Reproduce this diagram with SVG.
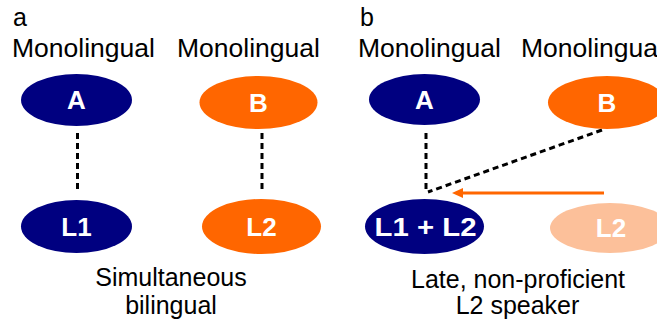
<svg xmlns="http://www.w3.org/2000/svg" width="657" height="326" viewBox="0 0 657 326">
<style>
.lbl{font-family:"Liberation Sans",Arial,sans-serif;font-size:25px;fill:#000}
.pl{font-family:"Liberation Sans",Arial,sans-serif;font-size:25px;fill:#000}
.nt{font-family:"Liberation Sans",Arial,sans-serif;font-size:26px;font-weight:bold;fill:#fff;text-anchor:middle}
.navy{fill:#000080}
.orange{fill:#ff6600}
.peach{fill:#fcc09a}
.dash{stroke:#000;stroke-width:3;stroke-dasharray:6,4;fill:none}
</style>
<defs>
<marker id="ah" markerWidth="11" markerHeight="10" refX="1" refY="5" orient="auto" markerUnits="userSpaceOnUse">
<path d="M0,0 L11,5 L0,10 Z" fill="#ff6600"/>
</marker>
</defs>
<text class="pl" x="13" y="26">a</text>
<text class="pl" x="360" y="26">b</text>
<text class="lbl" x="12" y="57" textLength="143" lengthAdjust="spacingAndGlyphs">Monolingual</text>
<text class="lbl" x="177" y="57" textLength="143" lengthAdjust="spacingAndGlyphs">Monolingual</text>
<text class="lbl" x="358" y="57" textLength="143" lengthAdjust="spacingAndGlyphs">Monolingual</text>
<text class="lbl" x="521" y="57" textLength="143" lengthAdjust="spacingAndGlyphs">Monolingual</text>
<g id="connectors">
<line class="dash" x1="77.5" y1="133" x2="77.5" y2="193"/>
<line class="dash" x1="262" y1="133" x2="262" y2="193"/>
<line class="dash" x1="426" y1="133" x2="426" y2="192"/>
<line class="dash" x1="602" y1="130" x2="428" y2="192"/>
<line x1="604" y1="193" x2="462" y2="193" stroke="#ff6600" stroke-width="3" marker-end="url(#ah)"/>
</g>
<g id="nodeA1"><ellipse class="navy" cx="76.5" cy="100" rx="55.5" ry="26"/><text class="nt" x="76.5" y="109">A</text></g>
<g id="nodeB1"><ellipse class="orange" cx="258.5" cy="102.5" rx="59" ry="26.5"/><text class="nt" x="258.5" y="112">B</text></g>
<g id="nodeL1a"><ellipse class="navy" cx="76.5" cy="226.5" rx="55.5" ry="26.5"/><text class="nt" x="76.5" y="236">L1</text></g>
<g id="nodeL2a"><ellipse class="orange" cx="261.5" cy="226.5" rx="59.5" ry="27.5"/><text class="nt" x="261.5" y="236">L2</text></g>
<g id="nodeA2"><ellipse class="navy" cx="424.5" cy="99.5" rx="55.5" ry="25.5"/><text class="nt" x="424.5" y="109">A</text></g>
<g id="nodeB2"><ellipse class="orange" cx="607" cy="102.5" rx="59" ry="26.5"/><text class="nt" x="607" y="112">B</text></g>
<g id="nodeL1L2"><ellipse class="navy" cx="424.5" cy="226.5" rx="59.5" ry="27.5"/><text class="nt" x="425.5" y="236" textLength="102" lengthAdjust="spacingAndGlyphs">L1 + L2</text></g>
<g id="nodeL2b"><ellipse class="peach" cx="610" cy="228" rx="60" ry="25"/><text class="nt" x="611" y="237">L2</text></g>
<text class="lbl" x="171" y="286" text-anchor="middle">Simultaneous</text>
<text class="lbl" x="171" y="314" text-anchor="middle">bilingual</text>
<text class="lbl" x="518" y="288" text-anchor="middle">Late, non-proficient</text>
<text class="lbl" x="517.5" y="314" text-anchor="middle">L2 speaker</text>
</svg>
